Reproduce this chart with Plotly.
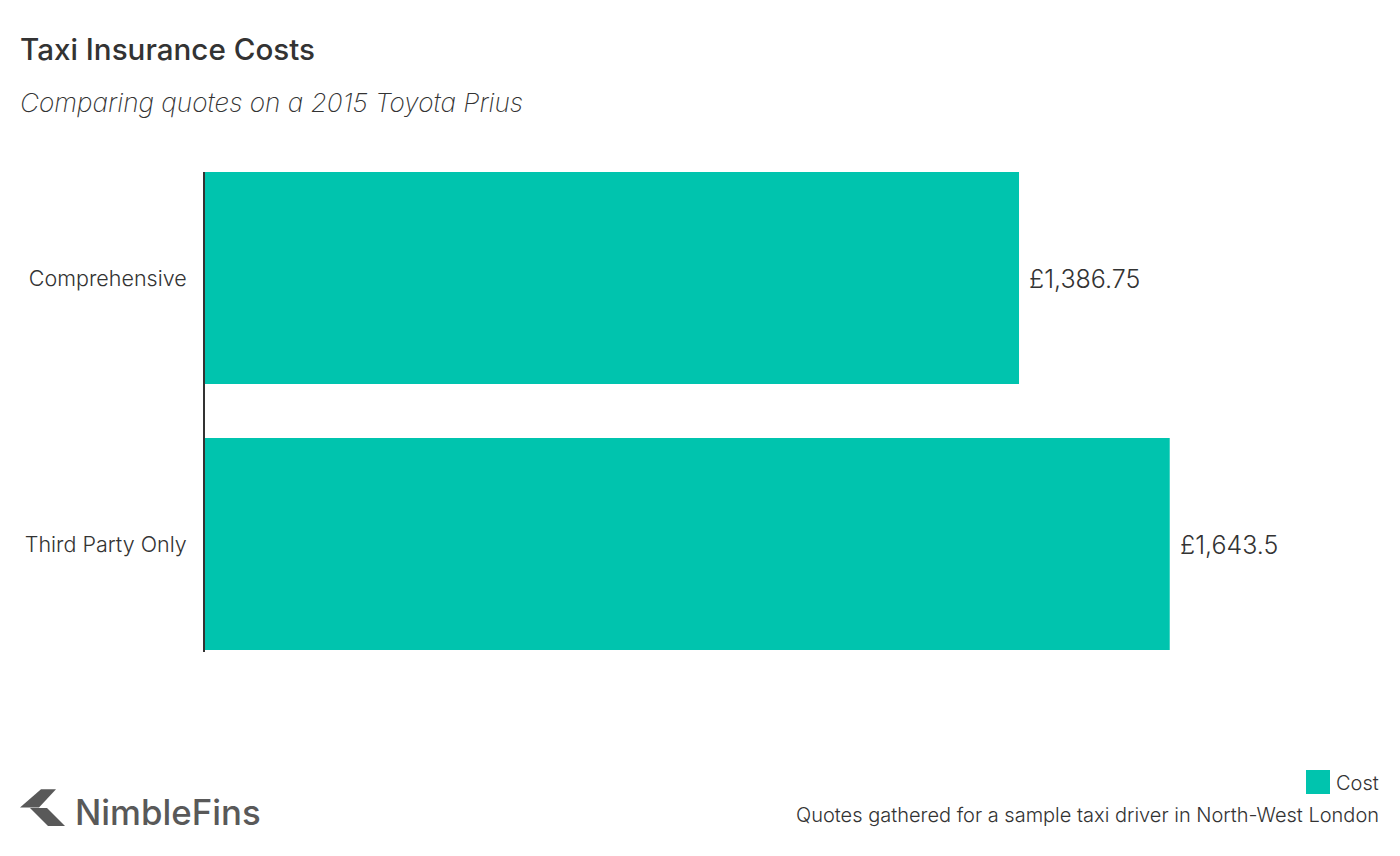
import plotly.graph_objects as go

WIDTH = 1400
HEIGHT = 856
LEFT, RIGHT, TOP, BOTTOM = 205, 1379, 172, 652

categories = ["Comprehensive", "Third Party Only"]
costs = [1386.75, 1643.5]
cost_labels = ["£1,386.75", "£1,643.5"]
series_name = "Cost"

title = "Taxi Insurance Costs"
subtitle = "Comparing quotes on a 2015 Toyota Prius"
source = "Quotes gathered for a sample taxi driver in North-West London"
brand = "NimbleFins"

TEAL = "#00c4ae"
DARK = "#333333"
GREY = "#595959"
FONT = "Inter"


def px(x):
    return (x - LEFT) / (RIGHT - LEFT)


def py(y):
    return (BOTTOM - y) / (BOTTOM - TOP)


def note(text, x, y, size, anchor="left", color=DARK, weight=400, style="normal"):
    return dict(
        text=text, x=px(x), y=py(y), xref="paper", yref="paper",
        xanchor=anchor, yanchor="middle", showarrow=False, align=anchor,
        font=dict(family=FONT, size=size, color=color, weight=weight, style=style),
    )


def poly(points, color):
    path = "M " + " L ".join(f"{px(x):.5f},{py(y):.5f}" for x, y in points) + " Z"
    return dict(type="path", path=path, xref="paper", yref="paper",
                fillcolor=color, line=dict(width=0))


fig = go.Figure()
fig.add_trace(go.Bar(
    y=categories, x=costs, orientation="h", name=series_name,
    marker=dict(color=TEAL, line=dict(width=0)),
    showlegend=False,
))

value_notes = [
    dict(text=label, x=cost, y=cat, xref="x", yref="y", xanchor="left",
         yanchor="middle", showarrow=False, xshift=8, yshift=-1,
         font=dict(family=FONT, size=25, color=DARK, weight=300))
    for cat, cost, label in zip(categories, costs, cost_labels)
]

fig.update_layout(
    width=WIDTH, height=HEIGHT,
    margin=dict(l=LEFT, r=WIDTH - RIGHT, t=TOP, b=HEIGHT - BOTTOM, pad=0),
    paper_bgcolor="white", plot_bgcolor="white",
    bargap=0.203, showlegend=False,
    xaxis=dict(range=[0, 2000], visible=False),
    yaxis=dict(
        range=[1.406, -0.3985], type="category",
        showline=True, linecolor=DARK, linewidth=2,
        showgrid=False, ticks="", ticklabelstandoff=12,
        tickfont=dict(family=FONT, size=21.5, color=DARK, weight=300),
    ),
    annotations=value_notes + [
        note(title, 18, 49, 29.6, weight=500),
        note(subtitle, 18, 103, 26.2, weight=200, style="italic"),
        note(series_name, 1381, 783, 20, anchor="right", weight=300),
        note(source, 1381, 815, 20, anchor="right", weight=300),
        note(brand, 73, 812, 34.8, color=GREY, weight=500),
    ],
    shapes=[
        dict(type="rect", xref="paper", yref="paper",
             x0=px(1306), x1=px(1330), y0=py(770), y1=py(794),
             fillcolor=TEAL, line=dict(width=0)),
        poly([(20, 807.5), (41, 789.3), (56, 789.3), (39, 807.5)], GREY),
        poly([(30, 808), (47, 808), (65, 826), (48, 826)], GREY),
    ],
)

fig.write_html("out.html", config=dict(displayModeBar=False),
               post_script="document.body.style.margin='0';")
